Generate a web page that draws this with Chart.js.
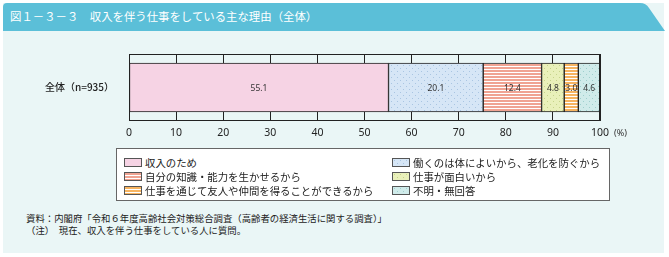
<!DOCTYPE html>
<html>
<head>
<meta charset="utf-8">
<script src="https://cdn.jsdelivr.net/npm/chart.js@4"></script>
<style>
  body { margin: 0; background: #fff; font-family: "Noto Sans CJK JP", "Noto Sans", sans-serif; }
  #page { position: relative; width: 669px; height: 257px; overflow: hidden; }
  #panel { position: absolute; left: 3px; top: 3px; width: 661px; height: 250px; background: #eaf6f6; }
  #titlebar { position: absolute; left: 0; top: 0; }
  #title { position: absolute; left: 10px; top: 8px; font-size: 11.4px; line-height: 16px; color: #fff; white-space: nowrap; }
  #wrap { position: absolute; left: 0; top: 40px; width: 669px; height: 105px; }
  #legend { position: absolute; left: 116px; top: 148px; width: 494px; height: 53px; background: #fff; border: 1.5px solid #666;
            display: grid; grid-template-columns: 268px 226px; grid-auto-rows: 14px; padding-top: 6px; box-sizing: border-box; }
  .item { display: flex; align-items: center; font-size: 10.4px; color: #222; white-space: nowrap; padding-left: 7px; }
  .item canvas { width: 18px; height: 9px; border: 1px solid #555; margin-right: 3px; box-sizing: border-box; }
  .note { position: absolute; left: 26px; font-size: 9.4px; color: #222; white-space: nowrap; line-height: 11px; }
</style>
</head>
<body>
<div id="page">
  <div id="panel"></div>
  <svg id="titlebar" width="669" height="32">
    <path d="M3,7 Q3,3 7,3 L640,3 Q646,3 649,8 L665,31 L3,31 Z" fill="#5bbfd8"/>
  </svg>
  <div id="title">図１－３－３　収入を伴う仕事をしている主な理由（全体）</div>
  <div id="wrap"><canvas id="myChart"></canvas></div>
  <div id="legend"></div>
  <div class="note" style="top:213px">資料：内閣府「令和６年度高齢社会対策総合調査（高齢者の経済生活に関する調査）」</div>
  <div class="note" style="top:225px">（注）　現在、収入を伴う仕事をしている人に質問。</div>
</div>
<script>
const categories = ['全体（n=935）'];
const seriesNames = [
  '収入のため',
  '働くのは体によいから、老化を防ぐから',
  '自分の知識・能力を生かせるから',
  '仕事が面白いから',
  '仕事を通じて友人や仲間を得ることができるから',
  '不明・無回答'
];
const seriesValues = [55.1, 20.1, 12.4, 4.8, 3.0, 4.6];
const xTicks = [0, 10, 20, 30, 40, 50, 60, 70, 80, 90, 100];

// fill styles: [base colour, kind, mark colour]
const fills = [
  ['#f6d3e4', 'solid', null],
  ['#d6e6f6', 'dots', '#a9c5e2'],
  ['#f0a392', 'stripes', '#ffffff'],
  ['#e9f0ba', 'dots', '#c6d38a'],
  ['#f7b460', 'stripes', '#ffffff'],
  ['#d0ebea', 'dots', '#9fcfcd']
];

function makeTile(f) {
  const c = document.createElement('canvas');
  const g = c.getContext('2d');
  if (f[1] === 'dots') {
    c.width = 6; c.height = 6;
    g.fillStyle = f[0]; g.fillRect(0, 0, 6, 6);
    g.fillStyle = f[2];
    g.fillRect(1, 1, 1, 1); g.fillRect(4, 4, 1, 1);
  } else if (f[1] === 'stripes') {
    c.width = 4; c.height = 3;
    g.fillStyle = f[0]; g.fillRect(0, 0, 4, 3);
    g.fillStyle = f[2]; g.fillRect(0, 2, 4, 1);
  } else {
    c.width = 2; c.height = 2;
    g.fillStyle = f[0]; g.fillRect(0, 0, 2, 2);
  }
  return c;
}

const ctx = document.getElementById('myChart').getContext('2d');
const patterns = fills.map(f => ctx.createPattern(makeTile(f), 'repeat'));

// legend in two columns, row-major like the source
const legend = document.getElementById('legend');
seriesNames.forEach((name, i) => {
  const item = document.createElement('div');
  item.className = 'item';
  const sw = document.createElement('canvas');
  sw.width = 16; sw.height = 7;
  const sg = sw.getContext('2d');
  sg.fillStyle = sg.createPattern(makeTile(fills[i]), 'repeat');
  sg.fillRect(0, 0, 16, 7);
  item.appendChild(sw);
  item.appendChild(document.createTextNode(name));
  legend.appendChild(item);
});

const frame = {
  id: 'frame',
  afterDatasetsDraw(chart) {
    const a = chart.chartArea;
    const g = chart.ctx;
    g.save();
    g.strokeStyle = '#222';
    g.lineWidth = 1;
    g.strokeRect(a.left + 0.5, a.top + 0.5, a.right - a.left - 1, a.bottom - a.top - 1);
    // values
    g.font = '8.5px "Noto Sans", sans-serif';
    g.fillStyle = '#333';
    g.textAlign = 'center';
    g.textBaseline = 'middle';
    chart.data.datasets.forEach((ds, i) => {
      chart.getDatasetMeta(i).data.forEach((el, j) => {
        g.fillText(ds.data[j].toFixed(1), (el.x + el.base) / 2, el.y + 1);
      });
    });
    g.font = '9px "Noto Sans", sans-serif';
    g.textAlign = 'left';
    g.fillText('(%)', a.right + 14, a.bottom + 12);
    g.restore();
  }
};

new Chart(ctx, {
  type: 'bar',
  data: {
    labels: categories,
    datasets: seriesNames.map((name, i) => ({
      label: name,
      data: [seriesValues[i]],
      backgroundColor: patterns[i],
      borderColor: '#222',
      borderWidth: 1,
      borderSkipped: false,
      barThickness: 49
    }))
  },
  options: {
    indexAxis: 'y',
    responsive: true,
    maintainAspectRatio: false,
    animation: false,
    layout: { padding: { left: 0, right: 69, top: 14, bottom: 0 } },
    plugins: { legend: { display: false }, tooltip: { enabled: false } },
    scales: {
      x: {
        stacked: true,
        min: 0, max: 100,
        afterBuildTicks: s => { s.ticks = xTicks.map(v => ({ value: v })); },
        afterFit: s => { s.height = 24; },
        grid: { color: '#222', lineWidth: 1, drawTicks: false },
        border: { display: false },
        ticks: { padding: 6, color: '#222', font: { size: 10.5, family: '"Noto Sans", sans-serif' } }
      },
      y: {
        stacked: true,
        afterFit: s => { s.width = 129; },
        grid: { display: false },
        border: { display: false },
        ticks: { padding: 7, color: '#222', font: { size: 10, weight: '500', family: '"Noto Sans CJK JP", sans-serif' } }
      }
    }
  },
  plugins: [frame]
});
</script>
</body>
</html>
